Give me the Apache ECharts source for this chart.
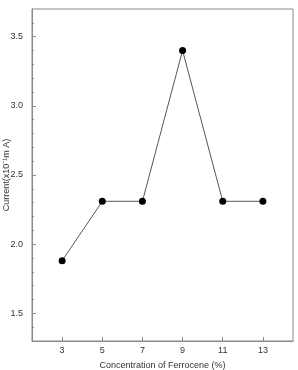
<!DOCTYPE html>
<html><head><meta charset="utf-8">
<script src="https://cdn.jsdelivr.net/npm/echarts@6/dist/echarts.min.js"></script>
<style>html,body{margin:0;padding:0;background:#fff}#c{width:298px;height:370px}</style>
</head><body><div id="c"></div>
<script>
const concentrations = [3, 5, 7, 9, 11, 13];
const currents = [1.88, 2.31, 2.31, 3.40, 2.31, 2.31];
const xTickValues = [3, 5, 7, 9, 11, 13];
const yTickValues = [1.5, 2.0, 2.5, 3.0, 3.5];
const yMinorTickValues = [1.4, 1.6, 1.7, 1.8, 1.9, 2.1, 2.2, 2.3, 2.4, 2.6, 2.7, 2.8, 2.9, 3.1, 3.2, 3.3, 3.4, 3.6];
const xTitle = 'Concentration of Ferrocene (%)';
const yTitle = 'Current(x10\u207B\u00B9m A)';

const font = 'Liberation Sans, Arial, sans-serif';
const chart = echarts.init(document.getElementById('c'));
chart.setOption({
  animation: false,
  grid: { left: 32, right: 5, top: 9, bottom: 29, show: true, borderColor: '#8a8a8a', borderWidth: 1,
    containLabel: false, outerBoundsMode: 'none' },
  xAxis: {
    type: 'value', min: 1.5, max: 14.5,
    name: xTitle, nameLocation: 'middle', nameGap: 20, nameMoveOverlap: false,
    nameTextStyle: { fontFamily: font, fontSize: 9, color: '#333' },
    axisLine: { lineStyle: { color: '#8a8a8a' } },
    axisTick: { inside: true, length: 4, customValues: xTickValues, lineStyle: { color: '#8a8a8a' } },
    axisLabel: { customValues: xTickValues, fontFamily: font, fontSize: 9, color: '#333', margin: 5 },
    splitLine: { show: false }
  },
  yAxis: [{
    type: 'value', min: 1.3, max: 3.7,
    name: yTitle, nameLocation: 'middle', nameGap: 21, nameMoveOverlap: false,
    nameTextStyle: { fontFamily: font, fontSize: 9, color: '#333' },
    axisLine: { show: true, lineStyle: { color: '#8a8a8a' } },
    axisTick: { inside: true, length: 4, customValues: yTickValues, lineStyle: { color: '#8a8a8a' } },
    axisLabel: { customValues: yTickValues, fontFamily: font, fontSize: 9, color: '#333', margin: 9,
      formatter: v => v.toFixed(1) },
    splitLine: { show: false }
  }, {
    type: 'value', min: 1.3, max: 3.7, position: 'left',
    axisLine: { show: false },
    axisTick: { show: true, inside: true, length: 2, customValues: yMinorTickValues, lineStyle: { color: '#8a8a8a' } },
    axisLabel: { show: false },
    splitLine: { show: false }
  }],
  series: [{
    type: 'line', data: concentrations.map((c, i) => [c, currents[i]]),
    symbol: 'circle', symbolSize: 7,
    itemStyle: { color: '#000' },
    lineStyle: { color: '#555', width: 1 }
  }]
});
</script></body></html>
